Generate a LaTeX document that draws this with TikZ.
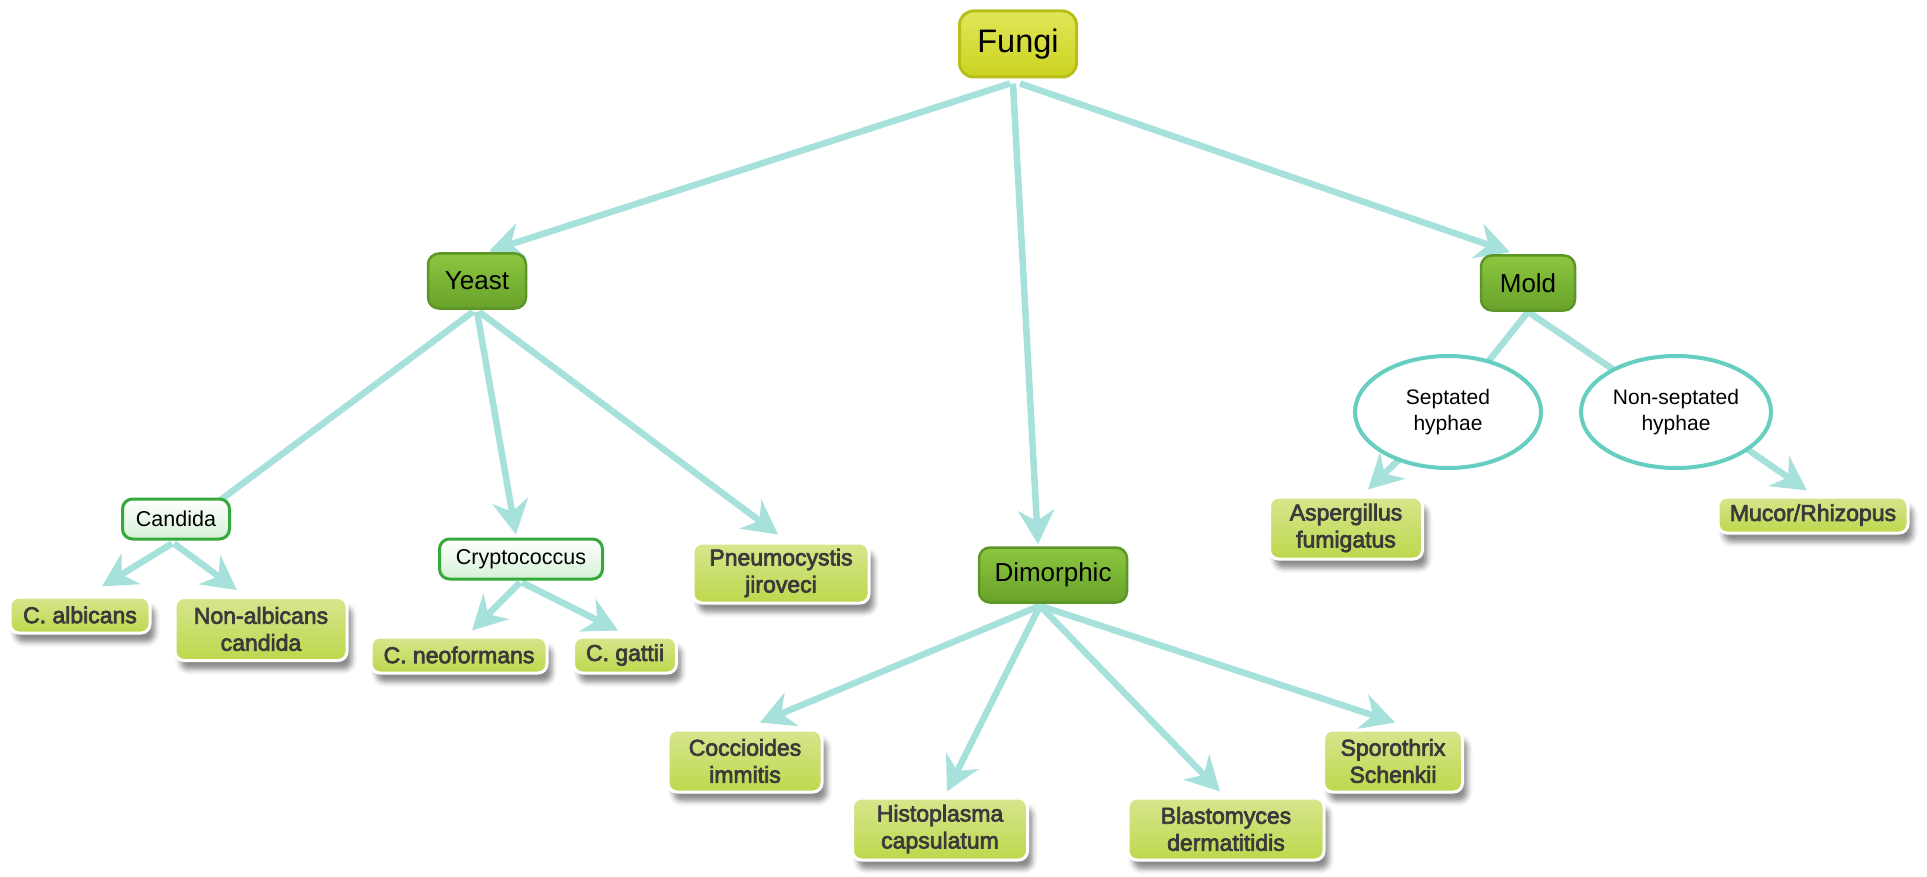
\documentclass[tikz,border=0pt]{standalone}
\usepackage{fontspec}
\setmainfont{Liberation Sans}
\newfontfamily\leaffont{Liberation Sans}[FakeBold=3]
\usetikzlibrary{arrows.meta,shadows.blur,calc,backgrounds,shapes.geometric}

\definecolor{edgecol}{HTML}{A6E1DB}
\definecolor{ringcol}{HTML}{66CDC1}
\definecolor{leaftop}{HTML}{D6E68E}
\definecolor{leafbot}{HTML}{BDD84C}
\definecolor{leaftext}{HTML}{3A3A3A}
\definecolor{cattop}{HTML}{8CC640}
\definecolor{catbot}{HTML}{68A22A}
\definecolor{catline}{HTML}{5C9627}
\definecolor{roottop}{HTML}{E0E75A}
\definecolor{rootbot}{HTML}{CBD31F}
\definecolor{rootline}{HTML}{B8BF1A}
\definecolor{subbot}{HTML}{D5F1D5}
\definecolor{subline}{HTML}{36A93C}

\begin{document}
\begin{tikzpicture}[x=1pt,y=-1pt,
  rootbox/.style={rounded corners=14pt, inner sep=0pt, minimum width=117pt, minimum height=66pt,
    top color=roottop, bottom color=rootbot, draw=rootline, line width=3pt,
    font=\fontsize{32.5}{36}\selectfont},
  catbox/.style={rounded corners=11pt, inner sep=0pt, minimum height=55pt,
    top color=cattop, bottom color=catbot, draw=catline, line width=2.5pt,
    font=\fontsize{26}{30}\selectfont},
  subbox/.style={rounded corners=10pt, inner sep=0pt, minimum height=40pt,
    top color=white, bottom color=subbot, draw=subline, line width=3pt,
    font=\fontsize{21.5}{26}\selectfont},
  leaf/.style={rounded corners=9pt, inner sep=0pt, align=center,
    top color=leaftop, bottom color=leafbot, draw=white, line width=3pt,
    blur shadow={shadow xshift=5pt, shadow yshift=-9pt, shadow blur radius=5pt, shadow opacity=45},
    text=leaftext, font=\leaffont\fontsize{23}{27}\selectfont},
  hypha/.style={ellipse, inner sep=0pt, align=center, fill=white, draw=ringcol, line width=4pt,
    minimum height=112pt, font=\fontsize{21}{26}\selectfont},
  edge/.style={draw=edgecol, line width=6.5pt},
  arr/.style={edge, -{Stealth[length=34pt, width=36pt, inset=11pt]}}
]
\useasboundingbox (0,0) rectangle (1927,877);

% top level
\node[rootbox] (fungi) at (1018,44) {Fungi};

% three groups
\node[catbox, minimum width=98pt] (yeast) at (477,281) {Yeast};
\node[catbox, minimum width=94pt] (mold) at (1528,283) {Mold};
\node[catbox, minimum width=148pt] (dimorphic) at (1053,575) {Dimorphic};

% yeast branch
\node[subbox, minimum width=107pt] (candida) at (176,519) {Candida};
\node[subbox, minimum width=163pt] (crypto) at (521,559) {Cryptococcus};
\node[leaf, minimum width=140pt, minimum height=36pt] (calb) at (80,615) {C. albicans};
\node[leaf, minimum width=172pt, minimum height=63pt] (nonalb) at (261,629) {Non-albicans\\candida};
\node[leaf, minimum width=176pt, minimum height=36pt] (cneo) at (459,655) {C. neoformans};
\node[leaf, minimum width=103pt, minimum height=36pt] (cgat) at (625,655) {C. gattii};
\node[leaf, minimum width=176pt, minimum height=60pt] (pneumo) at (781,573) {Pneumocystis\\jiroveci};

% dimorphic branch
\node[leaf, minimum width=154pt, minimum height=62pt] (cocci) at (745,761) {Coccioides\\immitis};
\node[leaf, minimum width=175pt, minimum height=62pt] (histo) at (940,829) {Histoplasma\\capsulatum};
\node[leaf, minimum width=196pt, minimum height=62pt] (blasto) at (1226,829) {Blastomyces\\dermatitidis};
\node[leaf, minimum width=139pt, minimum height=62pt] (sporo) at (1393,761) {Sporothrix\\Schenkii};

% mold branch
\node[hypha, minimum width=186pt] (sept) at (1448,412) {Septated\\hyphae};
\node[hypha, minimum width=190pt] (nonsept) at (1676,412) {Non-septated\\hyphae};
\node[leaf, minimum width=153pt, minimum height=62pt] (asper) at (1346,528) {Aspergillus\\fumigatus};
\node[leaf, minimum width=190pt, minimum height=36pt] (mucor) at (1813,515) {Mucor/Rhizopus};

% connectors, behind the boxes
\begin{pgfonlayer}{background}
\draw[arr] ($(fungi.south)+(-8,5)$) -- ($(yeast.north)+(12,-1)$);
\draw[arr] ($(fungi.south)+(-5,5)$) -- ($(dimorphic.north)+(-15,-2)$);
\draw[arr] ($(fungi.south)+(2,5)$) -- ($(mold.north)+(-18,-2)$);

\draw[edge] ($(yeast.south)+(-4,2)$) -- ($(candida.center)+(19,0)$);
\draw[arr] ($(yeast.south)+(0,2)$) -- ($(crypto.north)+(-5,-3)$);
\draw[arr] ($(yeast.south)+(2,2)$) -- ($(pneumo.north)+(-3,-7)$);

\draw[arr] ($(candida.south)+(-4,3)$) -- ($(calb.north)+(22,-9)$);
\draw[arr] ($(candida.south)+(-2,3)$) -- ($(nonalb.north)+(-24,-6)$);
\draw[arr] ($(crypto.south)+(-1,2)$) -- ($(cneo.north)+(13,-5)$);
\draw[arr] ($(crypto.south)+(1,2)$) -- ($(cgat.north)+(-7,-5)$);

\draw[arr] ($(dimorphic.south)+(-13,2)$) -- ($(cocci.north)+(15,-6)$);
\draw[arr] ($(dimorphic.south)+(-13,2)$) -- ($(histo.north)+(7,-5)$);
\draw[arr] ($(dimorphic.south)+(-13,2)$) -- ($(blasto.north)+(-6,-5)$);
\draw[arr] ($(dimorphic.south)+(-13,2)$) -- ($(sporo.north)+(2,-6)$);

\draw[edge] (mold.south) -- (sept.center);
\draw[edge] (mold.south) -- (nonsept.center);
\draw[arr] (sept.center) -- ($(asper.north)+(22,-6)$);
\draw[arr] ($(nonsept.center)+(0,-12)$) -- ($(mucor.north)+(-6,-5)$);
\end{pgfonlayer}
\end{tikzpicture}
\end{document}
